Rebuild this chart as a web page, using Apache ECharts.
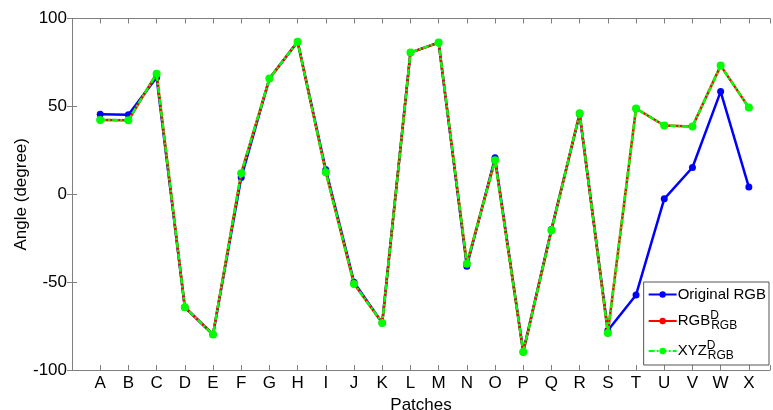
<!DOCTYPE html>
<html><head><meta charset="utf-8">
<script src="https://cdn.jsdelivr.net/npm/echarts@6/dist/echarts.min.js"></script>
<style>html,body{margin:0;padding:0;background:#fff}#c{width:773px;height:410px}</style>
</head><body><div id="c"></div>
<script>
const categories = ['A','B','C','D','E','F','G','H','I','J','K','L','M','N','O','P','Q','R','S','T','U','V','W','X'];
const originalRGB = [45.5, 45.2, 66.5, -64.3, -79.8, 9.5, 65.8, 86.8, 14, -50, -73.2, 80.6, 86.3, -41, 20.8, -89.7, -20, 45.5, -77.5, -57.3, -2.6, 15.2, 58.4, 4.1];
const rgbD = [42.3, 42.1, 68.6, -64.3, -79.8, 12, 65.8, 86.8, 12.5, -51, -73.2, 80.6, 86.3, -39.5, 19.3, -89.7, -20.5, 46.1, -78.9, 48.8, 39.1, 38.5, 73.2, 49.3];
const xyzD = [42.3, 42.1, 68.6, -64.3, -79.8, 12, 65.8, 86.8, 12.5, -51, -73.2, 80.6, 86.3, -39.5, 19.3, -89.7, -20.5, 46.1, -78.9, 48.8, 39.1, 38.5, 73.2, 49.3];
const yTicks = [-100, -50, 0, 50, 100];
const seriesNames = ['Original RGB', 'RGB_D', 'XYZ_D'];

const toPts = arr => categories.map((c, i) => [i + 1, arr[i]]);
const FONT = 'Liberation Sans';
const axisGray = '#7f7f7f';
const chart = echarts.init(document.getElementById('c'));
const xCommon = {
  type: 'value', min: 0, max: 24.75, interval: 1,
  axisLine: {show: true, onZero: false, lineStyle: {color: axisGray, width: 1}},
  axisTick: {show: true, inside: true, length: 5, lineStyle: {color: axisGray}},
  splitLine: {show: false}
};
const yCommon = {
  type: 'value', min: yTicks[0], max: yTicks[yTicks.length - 1], interval: 50,
  axisLine: {show: true, lineStyle: {color: axisGray, width: 1}},
  axisTick: {show: true, inside: true, length: 5, lineStyle: {color: axisGray}},
  splitLine: {show: false}
};
chart.setOption({
  animation: false,
  backgroundColor: '#fff',
  grid: {left: 72, right: 3, top: 18.5, bottom: 40, containLabel: false, outerBoundsMode: 'none'},
  xAxis: [
    Object.assign({}, xCommon, {
      position: 'bottom',
      name: 'Patches', nameLocation: 'middle', nameGap: 21,
      nameTextStyle: {fontFamily: FONT, fontSize: 17, color: '#000'},
      axisLabel: {fontFamily: FONT, fontSize: 17, color: '#000', margin: 5,
        formatter: v => (Number.isInteger(v) && v >= 1 && v <= categories.length) ? categories[v - 1] : ''}
    }),
    Object.assign({}, xCommon, {position: 'top', axisLabel: {show: false}})
  ],
  yAxis: [
    Object.assign({}, yCommon, {
      position: 'left',
      name: 'Angle (degree)', nameLocation: 'middle', nameGap: 42, nameRotate: 90,
      nameMoveOverlap: false,
      nameTextStyle: {fontFamily: FONT, fontSize: 17, color: '#000'},
      axisLabel: {fontFamily: FONT, fontSize: 17, color: '#000', margin: 5}
    }),
    Object.assign({}, yCommon, {position: 'right', axisLabel: {show: false}})
  ],
  legend: {
    orient: 'vertical', right: 4, bottom: 45,
    backgroundColor: '#fff', borderColor: '#555', borderWidth: 1,
    padding: [5, 3, 3, 4], itemGap: 8, itemWidth: 28, itemHeight: 8,
    data: seriesNames,
    formatter: n => n === 'Original RGB' ? n : (n === 'RGB_D' ? 'RGB{sup|D}{sub|RGB}' : 'XYZ{sup|D}{sub|RGB}'),
    textStyle: {
      fontFamily: FONT, fontSize: 15, color: '#000', padding: [0, 0, 0, -4],
      rich: {
        sup: {fontFamily: FONT, fontSize: 12, color: '#000', verticalAlign: 'top', width: 1, padding: [0, 0, 10, 0]},
        sub: {fontFamily: FONT, fontSize: 12, color: '#000', verticalAlign: 'bottom', padding: [10, 0, 0, 0]}
      }
    }
  },
  series: [
    {name: seriesNames[0], type: 'line', data: toPts(originalRGB), color: '#0000ff',
     symbol: 'circle', symbolSize: 7, lineStyle: {width: 2.5, color: '#0000ff'}, itemStyle: {color: '#0000ff'}, z: 2},
    {name: seriesNames[1], type: 'line', data: toPts(rgbD), color: '#ff0000',
     symbol: 'circle', symbolSize: 7, lineStyle: {width: 2.5, color: '#ff0000'}, itemStyle: {color: '#ff0000'}, z: 3},
    {name: seriesNames[2], type: 'line', data: toPts(xyzD), color: '#00ff00',
     symbol: 'circle', symbolSize: 8, lineStyle: {width: 2.5, color: '#00ff00', type: [6, 2, 2, 2]}, itemStyle: {color: '#00ff00'}, z: 4}
  ]
});
</script></body></html>
